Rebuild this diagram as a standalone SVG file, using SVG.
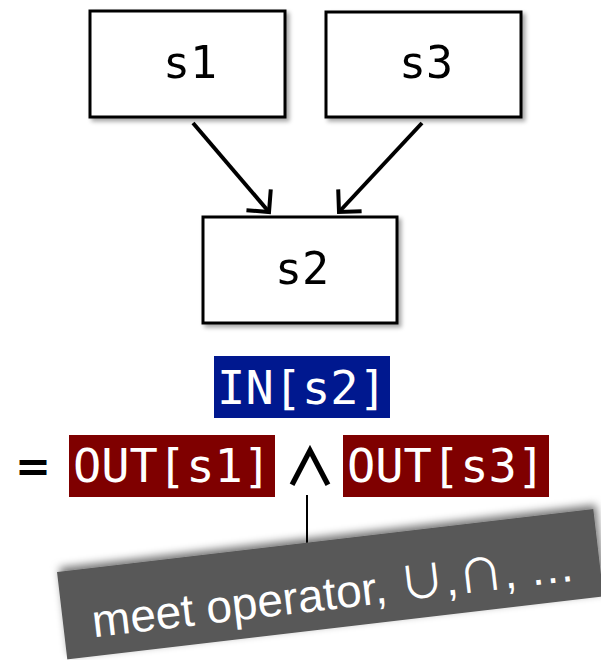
<svg xmlns="http://www.w3.org/2000/svg" width="601" height="660" viewBox="0 0 601 660">
  <defs>
    <filter id="boxShadow" x="-10%" y="-10%" width="130%" height="130%">
      <feDropShadow dx="3" dy="3" stdDeviation="2" flood-color="#000" flood-opacity="0.35"/>
    </filter>
    <filter id="labelShadow" x="-10%" y="-30%" width="130%" height="160%">
      <feDropShadow dx="3" dy="-4" stdDeviation="4" flood-color="#000" flood-opacity="0.55"/>
    </filter>
    <marker id="chev" markerUnits="userSpaceOnUse" viewBox="0 0 24 36" markerWidth="24" markerHeight="36" refX="19" refY="18" orient="auto" overflow="visible">
      <path d="M3,2 L19,18 L3,34" fill="none" stroke="#000" stroke-width="4" stroke-linejoin="miter"/>
    </marker>
  </defs>
  <style>
    .node rect { fill: #fff; stroke: #000; stroke-width: 3; }
    .nlabel { font-family: "DejaVu Sans Mono", monospace; font-size: 45px; fill: #000; text-anchor: middle; }
    .code { font-family: "DejaVu Sans Mono", monospace; font-size: 47px; fill: #fff; text-anchor: middle; }
    .edge { stroke: #000; stroke-width: 4; fill: none; marker-end: url(#chev); }
    .sym { font-family: "Noto Sans CJK JP", sans-serif; }
  </style>

  <g id="s1" class="node" filter="url(#boxShadow)">
    <rect x="90" y="11" width="195" height="106"/>
    <text class="nlabel" x="190" y="78">s1</text>
  </g>
  <g id="s3" class="node" filter="url(#boxShadow)">
    <rect x="326" y="12" width="195" height="105"/>
    <text class="nlabel" x="426" y="78">s3</text>
  </g>
  <g id="s2" class="node" filter="url(#boxShadow)">
    <rect x="203" y="217" width="194" height="106"/>
    <text class="nlabel" x="302" y="284">s2</text>
  </g>

  <g id="connectors">
    <line class="edge" x1="193" y1="123" x2="269" y2="212"/>
    <line class="edge" x1="422" y1="123" x2="339" y2="212"/>
    <line x1="307" y1="495" x2="307" y2="548" stroke="#000" stroke-width="2"/>
  </g>

  <g id="equation">
    <rect x="214" y="356" width="176" height="62" fill="#00188f"/>
    <text class="code" x="302" y="404">IN[s2]</text>
    <text x="33" y="481" font-family="DejaVu Sans, sans-serif" font-weight="bold" font-size="43" text-anchor="middle" fill="#000">=</text>
    <rect x="69" y="435" width="206" height="62" fill="#7f0000"/>
    <text class="code" x="172" y="482">OUT[s1]</text>
    <text class="sym" x="310" y="486" font-size="52" font-weight="bold" text-anchor="middle" fill="#000">∧</text>
    <rect x="343" y="435" width="206" height="62" fill="#7f0000"/>
    <text class="code" x="446" y="482">OUT[s3]</text>
  </g>

  <g id="meet-label" transform="translate(57,572) rotate(-6.7)">
    <rect x="0" y="0" width="540" height="88" fill="#595959" filter="url(#labelShadow)"/>
    <text x="29" y="69" font-family="Liberation Sans, Arial, sans-serif" font-size="46" fill="#fff">meet operator, <tspan class="sym">∪</tspan>,<tspan class="sym">∩</tspan>, …</text>
  </g>
</svg>
